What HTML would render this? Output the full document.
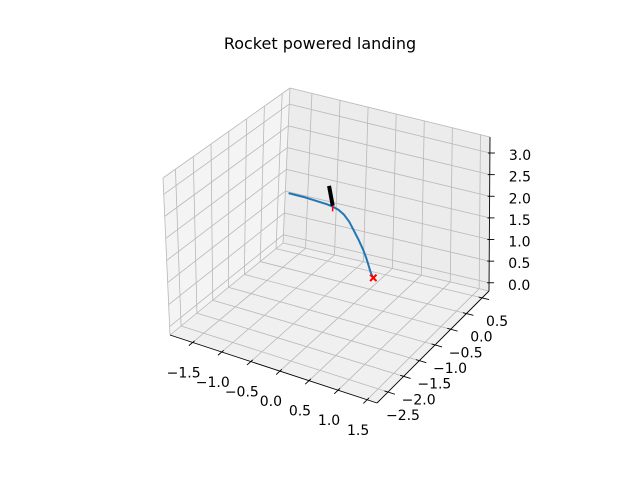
<!DOCTYPE html>
<html><head><meta charset="utf-8"><style>
body{margin:0;background:#fff}
svg{display:block}
text{font-family:"DejaVu Sans","Liberation Sans",sans-serif}
</style></head><body>
<svg id="chart" width="640" height="480" viewBox="0 0 640 480">
<rect width="640" height="480" fill="#fff"/>
<text x="320" y="49" text-anchor="middle" font-size="16" fill="#000">Rocket powered landing</text>
<g id="panes"></g>
<g id="grid"></g>
<g id="axes"></g>
<g id="series"></g>
</svg>
<script>
const xTicks=[-1.5,-1.0,-0.5,0.0,0.5,1.0,1.5];
const yTicks=[-2.5,-2.0,-1.5,-1.0,-0.5,0.0,0.5];
const zTicks=[0.0,0.5,1.0,1.5,2.0,2.5,3.0];
const trajX=[-1.43,-1.28,-1.14,-1.00,-0.89,-0.77,-0.66,-0.56,-0.46,-0.37,-0.29,-0.20,-0.12,-0.06,-0.02,0.01,0.04,0.06];
const trajY=[0,0,0,0,0,0,0,0,0,0,0,0,0,0,0,0,0,0];
const trajZ=[1.53,1.53,1.53,1.52,1.51,1.50,1.48,1.44,1.36,1.23,1.06,0.87,0.67,0.48,0.33,0.21,0.13,0.09];
const rocketX=[-0.73,-0.66];
const rocketY=[0,0];
const rocketZ=[1.93,1.50];
const flameX=[-0.66,-0.66];
const flameY=[0,0];
const flameZ=[1.50,1.37];
const landX=[0.06],landY=[0],landZ=[0.09];

const xmin=-1.89,xmax=1.67,ymin=-2.85,ymax=0.72,zmin=-0.19,zmax=3.37;
const B={L:[170,335],F:[377,403],R:[489,291],K:[283,243]};
const T={L:[163,178],F:[372,241],R:[490,137],K:[290,88]};
function bil(C,u,v){const a=(1-u)*(1-v),b=u*(1-v),c=u*v,d=(1-u)*v;
return [a*C.L[0]+b*C.F[0]+c*C.R[0]+d*C.K[0],a*C.L[1]+b*C.F[1]+c*C.R[1]+d*C.K[1]];}
function P(x,y,z){const u=(x-xmin)/(xmax-xmin),v=(y-ymin)/(ymax-ymin),w=(z-zmin)/(zmax-zmin);
const b=bil(B,u,v),t=bil(T,u,v);return [b[0]+(t[0]-b[0])*w,b[1]+(t[1]-b[1])*w];}
const NS='http://www.w3.org/2000/svg';
function mk(tag,attrs,parent){const e=document.createElementNS(NS,tag);for(const k in attrs)e.setAttribute(k,attrs[k]);document.getElementById(parent).appendChild(e);return e;}
function pts(a){return a.map(p=>p[0].toFixed(1)+','+p[1].toFixed(1)).join(' ');}
function line(p,q,stroke,w,parent,name){const e=mk('line',{x1:p[0],y1:p[1],x2:q[0],y2:q[1],stroke:stroke,'stroke-width':w},parent);

return e;}

let e;
e=mk('polygon',{points:pts([P(xmin,ymin,zmin),P(xmin,ymax,zmin),P(xmin,ymax,zmax),P(xmin,ymin,zmax)]),fill:'#f4f4f4'},'panes');


e=mk('polygon',{points:pts([P(xmin,ymax,zmin),P(xmax,ymax,zmin),P(xmax,ymax,zmax),P(xmin,ymax,zmax)]),fill:'#ececec'},'panes');


e=mk('polygon',{points:pts([P(xmin,ymin,zmin),P(xmax,ymin,zmin),P(xmax,ymax,zmin),P(xmin,ymax,zmin)]),fill:'#f0f0f0'},'panes');


const gc='#b8b8b8';
line(P(xmin,ymin,zmin),P(xmin,ymin,zmax),gc,0.8,'grid','pane-edge');
line(P(xmin,ymin,zmax),P(xmin,ymax,zmax),gc,0.8,'grid','pane-edge');
line(P(xmin,ymax,zmax),P(xmax,ymax,zmax),gc,0.8,'grid','pane-edge');
line(P(xmin,ymax,zmin),P(xmin,ymax,zmax),gc,0.8,'grid','pane-edge');
line(P(xmin,ymax,zmin),P(xmin,ymin,zmin),gc,0.8,'grid','pane-edge');
line(P(xmin,ymax,zmin),P(xmax,ymax,zmin),gc,0.8,'grid','pane-edge');
xTicks.forEach(v=>{line(P(v,ymin,zmin),P(v,ymax,zmin),gc,0.8,'grid','x-gridline');line(P(v,ymax,zmin),P(v,ymax,zmax),gc,0.8,'grid','x-gridline');});
yTicks.forEach(v=>{line(P(xmin,v,zmin),P(xmax,v,zmin),gc,0.8,'grid','y-gridline');line(P(xmin,v,zmin),P(xmin,v,zmax),gc,0.8,'grid','y-gridline');});
zTicks.forEach(v=>{line(P(xmin,ymin,v),P(xmin,ymax,v),gc,0.8,'grid','z-gridline');line(P(xmin,ymax,v),P(xmax,ymax,v),gc,0.8,'grid','z-gridline');});
line(P(xmin,ymin,zmin),P(xmax,ymin,zmin),'#000',0.9,'axes','x-axis-line');
line(P(xmax,ymin,zmin),P(xmax,ymax,zmin),'#000',0.9,'axes','y-axis-line');
line(P(xmax,ymax,zmin),P(xmax,ymax,zmax),'#000',0.9,'axes','z-axis-line');
function txt(x,y,s,anchor,name){const t=mk('text',{x:x,y:y,'font-size':14,'text-anchor':anchor,fill:'#000'},'axes');t.textContent=s;

}
function fmt(v){return (v<0?'\u2212':'')+Math.abs(v).toFixed(1);}
xTicks.forEach(v=>{const a=P(v,ymin+0.06,zmin),b=P(v,ymin-0.12,zmin);line(a,b,'#000',0.9,'axes','x-tick');
const p=P(v,ymin,zmin);txt(p[0]-9,p[1]+35,fmt(v),'middle','x-tick-label');});
yTicks.forEach(v=>{const a=P(xmax-0.06,v,zmin),b=P(xmax+0.12,v,zmin);line(a,b,'#000',0.9,'axes','y-tick');
const p=P(xmax,v,zmin);txt(p[0]+15,p[1]+28,fmt(v),'middle','y-tick-label');});
zTicks.forEach(v=>{const p=P(xmax,ymax,v);line([p[0]-2,p[1]],[p[0]+5,p[1]],'#000',0.9,'axes','z-tick');
txt(p[0]+19,p[1]+7,fmt(v),'start','z-tick-label');});
const tr=trajX.map((x,i)=>P(x,trajY[i],trajZ[i]));
e=mk('polyline',{points:pts(tr),fill:'none',stroke:'#1f77b4','stroke-width':2,'stroke-linejoin':'round'},'series');


line(P(rocketX[0],rocketY[0],rocketZ[0]),P(rocketX[1],rocketY[1],rocketZ[1]),'#000',4,'series','rocket-body');
line(P(flameX[0],flameY[0],flameZ[0]),P(flameX[1],flameY[1],flameZ[1]),'#ff0000',1.5,'series','rocket-thrust');
landX.forEach((x,i)=>{const p=P(x,landY[i],landZ[i]);const s=3.2;
line([p[0]-s,p[1]-s],[p[0]+s,p[1]+s],'#ff0000',2,'series','landing-marker');
line([p[0]-s,p[1]+s],[p[0]+s,p[1]-s],'#ff0000',2,'series','landing-marker');});
</script>
</body></html>
